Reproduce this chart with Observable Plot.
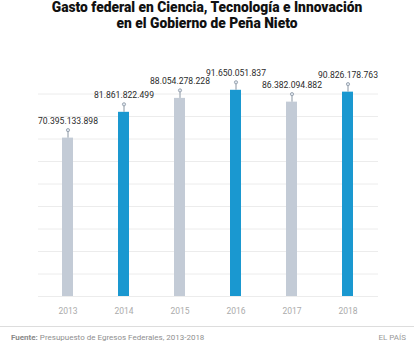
<!DOCTYPE html>
<html>
<head>
<meta charset="utf-8">
<script src="https://cdn.jsdelivr.net/npm/d3@7"></script>
<script src="https://cdn.jsdelivr.net/npm/@observablehq/plot@0.6"></script>
<style>
  html, body { margin: 0; padding: 0; background: #fff; }
  body { width: 414px; height: 345px; overflow: hidden; font-family: Roboto, "Noto Sans", sans-serif; }
  #title { height: 36px; box-sizing: border-box; padding-top: 0px; text-align: center; font-weight: 900; font-size: 13.8px; line-height: 15.5px; color: #111; letter-spacing: 0px; }
  #chart { height: 290px; }
  #chart svg { display: block; }
  #footer { border-top: 1px solid #ddd; height: 18px; box-sizing: border-box; position: relative; font-size: 8px; color: #8f8f8f; }
  #footer .src { position: absolute; left: 11px; top: 6px; }
  #footer .src b { font-weight: 700; color: #8a8a8a; }
  #footer .brand { position: absolute; right: 8px; top: 6px; color: #999; }
</style>
</head>
<body>
<div id="title">Gasto federal en Ciencia, Tecnología e Innovación<br>en el Gobierno de Peña Nieto</div>
<div id="chart"></div>
<div id="footer"><span class="src"><b>Fuente:</b> Presupuesto de Egresos Federales, 2013-2018</span><span class="brand">EL PAÍS</span></div>
<script>
const years = ["2013", "2014", "2015", "2016", "2017", "2018"];
const values = [70395133898, 81861822499, 88054278228, 91650051837, 86382094882, 90826178763];
const labels = ["70.395.133.898", "81.861.822.499", "88.054.278.228", "91.650.051.837", "86.382.094.882", "90.826.178.763"];
const highlight = [false, true, false, true, false, true];
const gridTicks = [0, 10e9, 20e9, 30e9, 40e9, 50e9, 60e9, 70e9, 80e9, 90e9];

const data = years.map((y, i) => ({year: y, value: values[i], label: labels[i], hi: highlight[i]}));

const H = 290, yBottom = 260, yTop = 57.5;
const unitsPerPx = 90e9 / (yBottom - yTop);
const stemPx = 8;

const plot = Plot.plot({
  width: 414,
  height: H,
  marginLeft: 38,
  marginRight: 36,
  marginTop: yTop,
  marginBottom: H - yBottom,
  style: {fontFamily: "Roboto, 'Noto Sans', sans-serif", background: "#fff"},
  x: {domain: years, paddingInner: 0.8, paddingOuter: 0.425, label: null},
  y: {domain: [0, 90e9], axis: null},
  marks: [
    Plot.ruleY(gridTicks, {stroke: "#ececec", strokeWidth: 1}),
    Plot.barY(data, {x: "year", y: "value", fill: d => d.hi ? "#1a98d0" : "#c3cbd6"}),
    Plot.ruleX(data, {x: "year", y1: "value", y2: d => d.value + stemPx * unitsPerPx, stroke: "#8a96a3", strokeWidth: 1}),
    Plot.dot(data, {x: "year", y: d => d.value + stemPx * unitsPerPx, r: 1.6, fill: "#dfe6ee", stroke: "#8a96a3", strokeWidth: 0.8}),
    Plot.text(data, {x: "year", y: d => d.value + stemPx * unitsPerPx, text: "label", dy: -9, fontSize: 8.6, fill: "#2b2b2b"}),
    Plot.axisX({tickSize: 0, tickPadding: 11.5, fontSize: 8.5, color: "#ababab", label: null})
  ]
});
document.getElementById("chart").appendChild(plot);
</script>
</body>
</html>
